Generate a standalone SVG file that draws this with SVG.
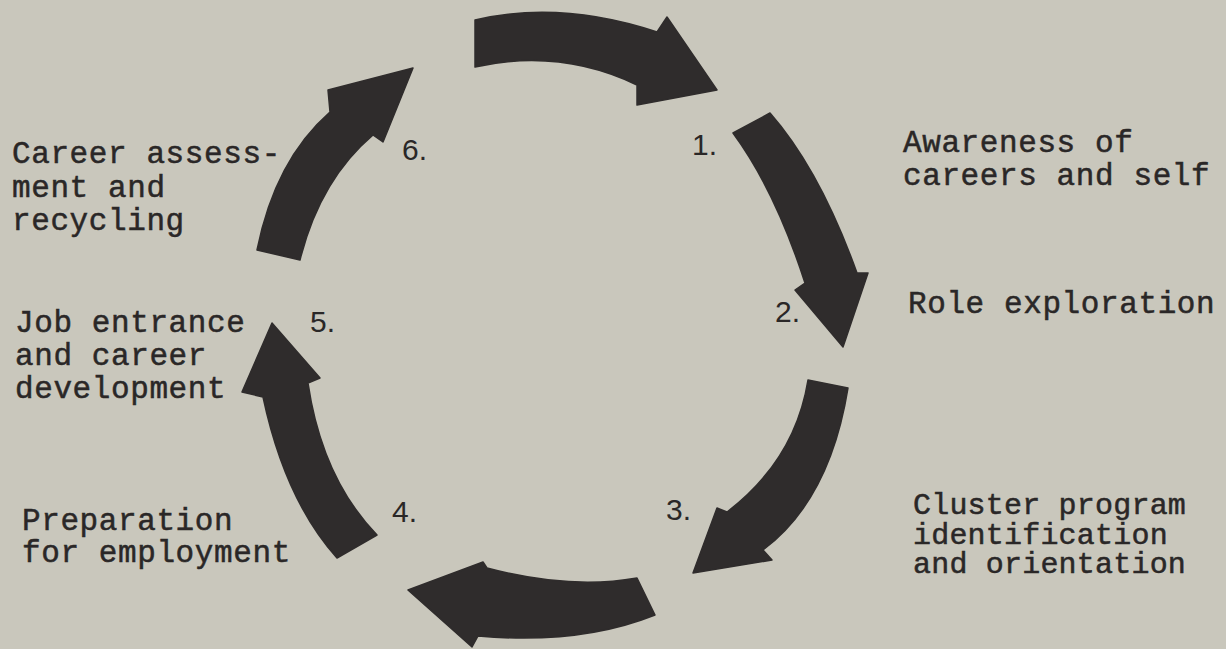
<svg xmlns="http://www.w3.org/2000/svg" width="1226" height="649" viewBox="0 0 1226 649">
<style>
.bg{fill:#c9c7bc}
.arr{fill:#2f2c2c;stroke:#2f2c2c;stroke-width:1.5;stroke-linejoin:round}
.lbl{font-family:"Liberation Mono","Courier New",monospace;font-size:31px;fill:#2a2727;stroke:#2a2727;stroke-width:0.5;letter-spacing:0.6px}
.tight{font-size:30px;letter-spacing:0.2px}
.num{font-family:"Liberation Sans",Arial,sans-serif;font-size:30px;fill:#2a2727}
</style>
<rect class="bg" x="0" y="0" width="1226" height="649"/>
<g id="connectors">
<path id="arrow-6-1" class="arr" d="M475,20 Q560,0 657,32 L667,17 L717,90 L637,105 L637,85 Q560,48 475,67 Z"/>
<path id="arrow-1-2" class="arr" d="M733,133 Q775,190 805,283 L795,290 L843,347 L868,273 L857,273 Q820,170 770,113 Z"/>
<path id="arrow-2-3" class="arr" d="M808,380 Q795,460 727,512 L717,508 L693,573 L772,560 L763,550 Q830,500 848,388 Z"/>
<path id="arrow-3-4" class="arr" d="M637,578 Q570,590 487,568 L483,562 L408,590 L472,647 L478,636 Q580,645 655,615 Z"/>
<path id="arrow-4-5" class="arr" d="M337,558 Q285,500 263,397 L242,392 L272,323 L320,378 L308,383 Q322,478 377,535 Z"/>
<path id="arrow-5-6" class="arr" d="M257,250 Q275,160 330,112 L328,90 L413,68 L383,142 L373,135 Q320,180 300,260 Z"/>
</g>
<g id="node1">
<text class="num" x="692" y="155">1.</text>
<text class="lbl" x="903" y="152">Awareness of</text>
<text class="lbl" x="903" y="185">careers and self</text>
</g>
<g id="node2">
<text class="num" x="775" y="322">2.</text>
<text class="lbl" x="908" y="313">Role exploration</text>
</g>
<g id="node3">
<text class="num" x="666" y="520">3.</text>
<text class="lbl tight" x="913" y="514">Cluster program</text>
<text class="lbl tight" x="913" y="544">identification</text>
<text class="lbl tight" x="913" y="573">and orientation</text>
</g>
<g id="node4">
<text class="num" x="392" y="522">4.</text>
<text class="lbl" x="22" y="530">Preparation</text>
<text class="lbl" x="22" y="562">for employment</text>
</g>
<g id="node5">
<text class="num" x="310" y="332">5.</text>
<text class="lbl" x="15" y="332">Job entrance</text>
<text class="lbl" x="15" y="365">and career</text>
<text class="lbl" x="15" y="398">development</text>
</g>
<g id="node6">
<text class="num" x="402" y="160">6.</text>
<text class="lbl" x="12" y="163">Career assess-</text>
<text class="lbl" x="12" y="197">ment and</text>
<text class="lbl" x="12" y="230">recycling</text>
</g>
</svg>
